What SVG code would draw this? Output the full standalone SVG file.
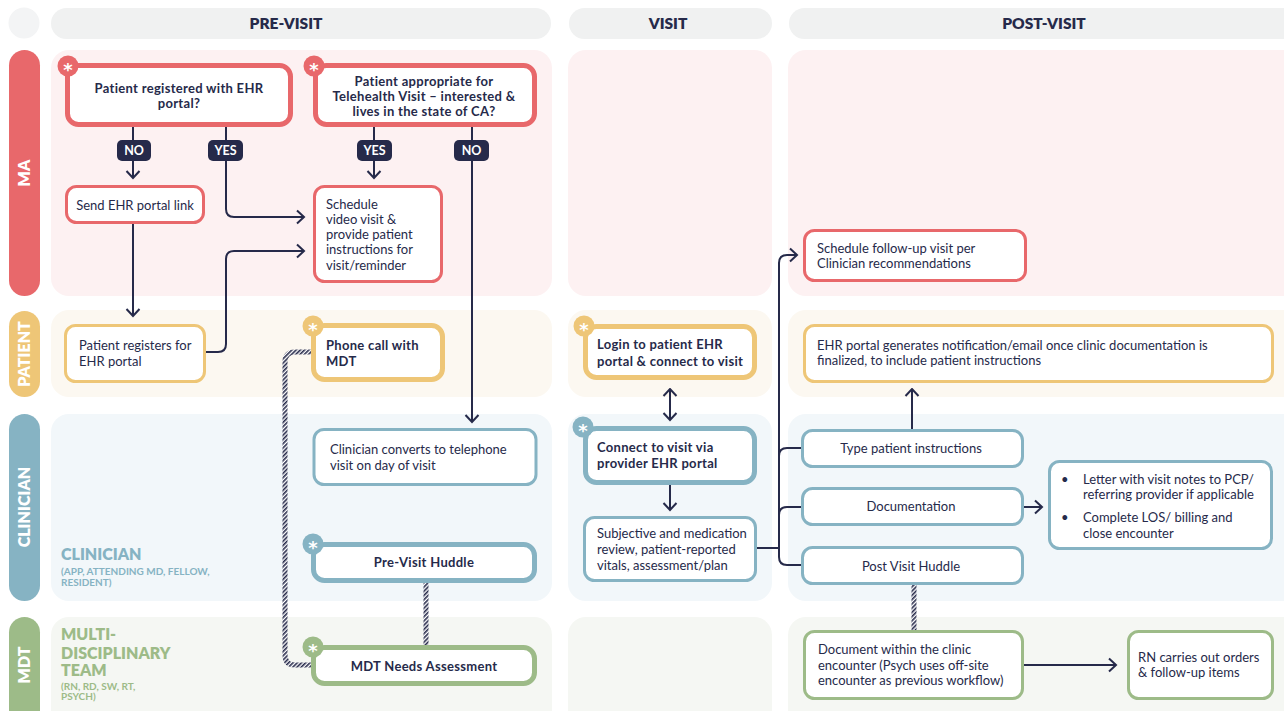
<svg xmlns="http://www.w3.org/2000/svg" width="1284" height="711" viewBox="0 0 1284 711">
<defs>
<style>
text{font-family:Lato,"Noto Sans",sans-serif;fill:#262a4a}
.r{font-size:13px}
.b{font-size:13px;font-weight:700;letter-spacing:0.3px}
.c{text-anchor:middle}
.hd{font-size:15.5px;font-weight:800;text-anchor:middle}
.ll{font-size:16px;font-weight:800;fill:#fff;text-anchor:middle}
.ma{stroke:#e8686b}
.pa{stroke:#eec677}
.cl{stroke:#86b3c3}
.md{stroke:#9dbb88}
.n{fill:#fff;stroke-width:3}
.k{fill:#fff;stroke-width:5}
.cn{fill:none;stroke:#262a4a;stroke-width:2}
.h{fill:none;stroke:url(#hatch);stroke-width:5}
.pill{fill:#262a4a}
.pt{font-size:12.5px;font-weight:700;fill:#fff;text-anchor:middle}
.ast{font-size:18px;font-weight:700;fill:#fff;text-anchor:middle;font-family:"DejaVu Sans",sans-serif}
.sl{font-weight:800;font-size:16px}
.ss{font-weight:700;font-size:10px}
</style>
<marker id="ar" viewBox="0 0 10 16" refX="8.5" refY="8" markerWidth="10" markerHeight="16" markerUnits="userSpaceOnUse" orient="auto-start-reverse">
<path d="M1.5,1.5 L8.5,8 L1.5,14.5" fill="none" stroke="#262a4a" stroke-width="2"/>
</marker>
<pattern id="hatch" width="3" height="3" patternUnits="userSpaceOnUse" patternTransform="rotate(45)">
<rect width="3" height="3" fill="#fff"/><rect width="1.6" height="3" fill="#262a4a"/>
</pattern>
</defs>

<g id="background">
<rect width="1284" height="711" fill="#fff"/>
<circle cx="24" cy="23" r="15.5" fill="#f3f4f5"/>
<rect x="51" y="8" width="500" height="31" rx="15.5" fill="#f0f1f1"/>
<rect x="569" y="8" width="203" height="31" rx="15.5" fill="#f0f1f1"/>
<rect x="789" y="8" width="520" height="31" rx="15.5" fill="#f0f1f1"/>
<text class="hd" x="286" y="28.5">PRE-VISIT</text>
<text class="hd" x="668" y="28.5">VISIT</text>
<text class="hd" x="1044" y="28.5">POST-VISIT</text>

<rect x="51" y="50" width="501" height="246" rx="18" fill="#fdf1f2"/>
<rect x="568" y="50" width="204" height="246" rx="18" fill="#fdf1f2"/>
<rect x="788" y="50" width="520" height="246" rx="18" fill="#fdf1f2"/>
<rect x="51" y="310" width="501" height="87" rx="18" fill="#fcf8f1"/>
<rect x="568" y="310" width="204" height="87" rx="18" fill="#fcf8f1"/>
<rect x="788" y="310" width="520" height="87" rx="18" fill="#fcf8f1"/>
<rect x="51" y="414" width="501" height="187" rx="18" fill="#f2f7fa"/>
<rect x="568" y="414" width="204" height="187" rx="18" fill="#f2f7fa"/>
<rect x="788" y="414" width="520" height="187" rx="18" fill="#f2f7fa"/>
<rect x="51" y="617" width="501" height="110" rx="18" fill="#f5f7f3"/>
<rect x="568" y="617" width="204" height="110" rx="18" fill="#f5f7f3"/>
<rect x="788" y="617" width="520" height="110" rx="18" fill="#f5f7f3"/>

<rect x="9" y="50" width="31" height="246" rx="15.5" fill="#e8686b"/>
<rect x="9" y="311" width="31" height="86" rx="15.5" fill="#eec677"/>
<rect x="9" y="414" width="31" height="187" rx="15.5" fill="#86b3c3"/>
<rect x="9" y="617" width="31" height="110" rx="15.5" fill="#9dbb88"/>
<text class="ll" transform="translate(30,173) rotate(-90)">MA</text>
<text class="ll" transform="translate(30,354) rotate(-90)">PATIENT</text>
<text class="ll" transform="translate(30,507) rotate(-90)">CLINICIAN</text>
<text class="ll" transform="translate(30,665) rotate(-90)">MDT</text>

<text x="61" y="560" class="sl" style="fill:#86b3c3">CLINICIAN</text>
<text x="61" y="574.5" class="ss" style="fill:#86b3c3">(APP, ATTENDING MD, FELLOW,</text>
<text x="61" y="585.5" class="ss" style="fill:#86b3c3">RESIDENT)</text>
<text x="61" y="639.5" class="sl" style="fill:#9dbb88">MULTI-</text>
<text x="61" y="658.5" class="sl" style="fill:#9dbb88">DISCIPLINARY</text>
<text x="61" y="675.5" class="sl" style="fill:#9dbb88">TEAM</text>
<text x="61" y="690" class="ss" style="fill:#9dbb88">(RN, RD, SW, RT,</text>
<text x="61" y="699.5" class="ss" style="fill:#9dbb88">PSYCH)</text>
</g>

<g id="connectors">
<path class="cn" d="M133,127 L133,178" marker-end="url(#ar)"/>
<path class="cn" d="M226,127 L226,209 Q226,217 234,217 L304,217" marker-end="url(#ar)"/>
<path class="cn" d="M133,224 L133,316" marker-end="url(#ar)"/>
<path class="cn" d="M206,352 L218,352 Q226,352 226,344 L226,259 Q226,251 234,251 L304,251" marker-end="url(#ar)"/>
<path class="cn" d="M374,127 L374,178" marker-end="url(#ar)"/>
<path class="cn" d="M472,127 L472,422" marker-end="url(#ar)"/>
<path class="h" d="M311,352 L295,352 Q285,352 285,362 L285,655 Q285,665 295,665 L311,665"/>
<path class="h" d="M426,583 L426,645"/>
<path class="cn" d="M670,389 L670,420" marker-start="url(#ar)" marker-end="url(#ar)"/>
<path class="cn" d="M670,485 L670,510" marker-end="url(#ar)"/>
<path class="cn" d="M757,548 L779,548"/>
<path class="cn" d="M779,557 Q779,565 787,565 L801,565 M779,557 L779,263 Q779,255 787,255 L797,255" marker-end="url(#ar)"/>
<path class="cn" d="M779,456 Q779,448 787,448 L801,448"/>
<path class="cn" d="M779,515 Q779,507 787,507 L801,507"/>
<path class="cn" d="M912,429 L912,389" marker-end="url(#ar)"/>
<path class="cn" d="M1024,507 L1042,507" marker-end="url(#ar)"/>
<path class="h" d="M914,585 L914,630"/>
<path class="cn" d="M1024,665 L1116,665" marker-end="url(#ar)"/>
<g id="labels">
<rect class="pill" x="117" y="140" width="34" height="21" rx="5"/><text class="pt" x="134" y="155">NO</text>
<rect class="pill" x="208" y="140" width="35" height="21" rx="5"/><text class="pt" x="225.5" y="155">YES</text>
<rect class="pill" x="357" y="140" width="35" height="21" rx="5"/><text class="pt" x="374.5" y="155">YES</text>
<rect class="pill" x="454" y="140" width="35" height="21" rx="5"/><text class="pt" x="471.5" y="155">NO</text>
</g>
</g>

<g id="n-registered">
<rect class="k ma" x="67.5" y="65.5" width="223" height="59" rx="11"/>
<circle cx="68" cy="66" r="10.5" fill="#e8686b"/><text class="ast" x="68" y="76">*</text>
<text class="b c" x="179" y="92.5">Patient registered with EHR</text>
<text class="b c" x="179" y="107.5">portal?</text>
</g>
<g id="n-appropriate">
<rect class="k ma" x="315.5" y="65.5" width="219" height="59" rx="11"/>
<circle cx="314" cy="66" r="10.5" fill="#e8686b"/><text class="ast" x="314" y="76">*</text>
<text class="b c" x="424" y="85.5">Patient appropriate for</text>
<text class="b c" x="424" y="100.5">Telehealth Visit – interested &amp;</text>
<text class="b c" x="424" y="115.5">lives in the state of CA?</text>
</g>
<g id="n-sendlink">
<rect class="n ma" x="66.5" y="186.5" width="137" height="36" rx="10"/>
<text class="r c" x="135" y="209.5">Send EHR portal link</text>
</g>
<g id="n-schedule">
<rect class="n ma" x="314.5" y="186.5" width="127" height="95" rx="10"/>
<text class="r" x="326" y="208.5">Schedule</text>
<text class="r" x="326" y="223.8">video visit &amp;</text>
<text class="r" x="326" y="239.1">provide patient</text>
<text class="r" x="326" y="254.4">instructions for</text>
<text class="r" x="326" y="269.7">visit/reminder</text>
</g>
<g id="n-followup">
<rect class="n ma" x="804.5" y="230.5" width="221" height="50" rx="10"/>
<text class="r" x="817" y="252.5">Schedule follow-up visit per</text>
<text class="r" x="817" y="267.5">Clinician recommendations</text>
</g>

<g id="n-registers">
<rect class="n pa" x="65.5" y="325.5" width="139" height="56" rx="10"/>
<text class="r" x="79" y="349.5">Patient registers for</text>
<text class="r" x="79" y="365.5">EHR portal</text>
</g>
<g id="n-phone">
<rect class="k pa" x="313.5" y="325.5" width="129" height="54" rx="11"/>
<circle cx="313" cy="326" r="10.5" fill="#eec677"/><text class="ast" x="313" y="336">*</text>
<text class="b" x="326" y="349.5">Phone call with</text>
<text class="b" x="326" y="365.5">MDT</text>
</g>
<g id="n-login">
<rect class="k pa" x="585.5" y="326.5" width="169" height="51" rx="11"/>
<circle cx="584" cy="326" r="10.5" fill="#eec677"/><text class="ast" x="584" y="336">*</text>
<text class="b" x="597" y="348.5">Login to patient EHR</text>
<text class="b" x="597" y="365.5">portal &amp; connect to visit</text>
</g>
<g id="n-notify">
<rect class="n pa" x="804.5" y="325.5" width="468" height="56" rx="10"/>
<text class="r" x="817" y="349.5">EHR portal generates notification/email once clinic documentation is</text>
<text class="r" x="817" y="364.5">finalized, to include patient instructions</text>
</g>

<g id="n-converts">
<rect class="n cl" x="314" y="429.5" width="222" height="55" rx="10"/>
<text class="r" x="330" y="453.5">Clinician converts to telephone</text>
<text class="r" x="330" y="469.5">visit on day of visit</text>
</g>
<g id="n-prehuddle">
<rect class="k cl" x="313.5" y="544.5" width="221" height="36" rx="11"/>
<circle cx="313" cy="544" r="10.5" fill="#86b3c3"/><text class="ast" x="313" y="554">*</text>
<text class="b c" x="424" y="566.5">Pre-Visit Huddle</text>
</g>
<g id="n-connect">
<rect class="k cl" x="585.5" y="428.5" width="169" height="54" rx="11"/>
<circle cx="583" cy="427" r="10.5" fill="#86b3c3"/><text class="ast" x="583" y="437">*</text>
<text class="b" x="597" y="451.5">Connect to visit via</text>
<text class="b" x="597" y="468">provider EHR portal</text>
</g>
<g id="n-subjective">
<rect class="n cl" x="584.5" y="517.5" width="171" height="63" rx="10"/>
<text class="r" x="597" y="537.5">Subjective and medication</text>
<text class="r" x="597" y="553.5">review, patient-reported</text>
<text class="r" x="597" y="570">vitals, assessment/plan</text>
</g>
<g id="n-type">
<rect class="n cl" x="802.5" y="430.5" width="220" height="36" rx="10"/>
<text class="r c" x="911" y="452.5">Type patient instructions</text>
</g>
<g id="n-documentation">
<rect class="n cl" x="802.5" y="488.5" width="220" height="36" rx="10"/>
<text class="r c" x="911" y="510.5">Documentation</text>
</g>
<g id="n-posthuddle">
<rect class="n cl" x="802.5" y="547.5" width="220" height="36" rx="10"/>
<text class="r c" x="911" y="570.5">Post Visit Huddle</text>
</g>
<g id="n-letter">
<rect class="n cl" x="1049.5" y="461.5" width="222" height="87" rx="10"/>
<text class="r" x="1061" y="483.5">•</text>
<text class="r" x="1083" y="483.5">Letter with visit notes to PCP/</text>
<text class="r" x="1083" y="498.5">referring provider if applicable</text>
<text class="r" x="1061" y="521.5">•</text>
<text class="r" x="1083" y="521.5">Complete LOS/ billing and</text>
<text class="r" x="1083" y="537.5">close encounter</text>
</g>

<g id="n-mdtneeds">
<rect class="k md" x="313.5" y="647.5" width="221" height="36" rx="11"/>
<circle cx="313" cy="647" r="10.5" fill="#9dbb88"/><text class="ast" x="313" y="657">*</text>
<text class="b c" x="424" y="670.5">MDT Needs Assessment</text>
</g>
<g id="n-document">
<rect class="n md" x="804.5" y="631.5" width="218" height="67" rx="10"/>
<text class="r" x="818" y="653.5">Document within the clinic</text>
<text class="r" x="818" y="669.5">encounter (Psych uses off-site</text>
<text class="r" x="818" y="684.5">encounter as previous workflow)</text>
</g>
<g id="n-rn">
<rect class="n md" x="1128.5" y="631.5" width="144" height="67" rx="10"/>
<text class="r" x="1138" y="661.5">RN carries out orders</text>
<text class="r" x="1138" y="676.5">&amp; follow-up items</text>
</g>
</svg>
